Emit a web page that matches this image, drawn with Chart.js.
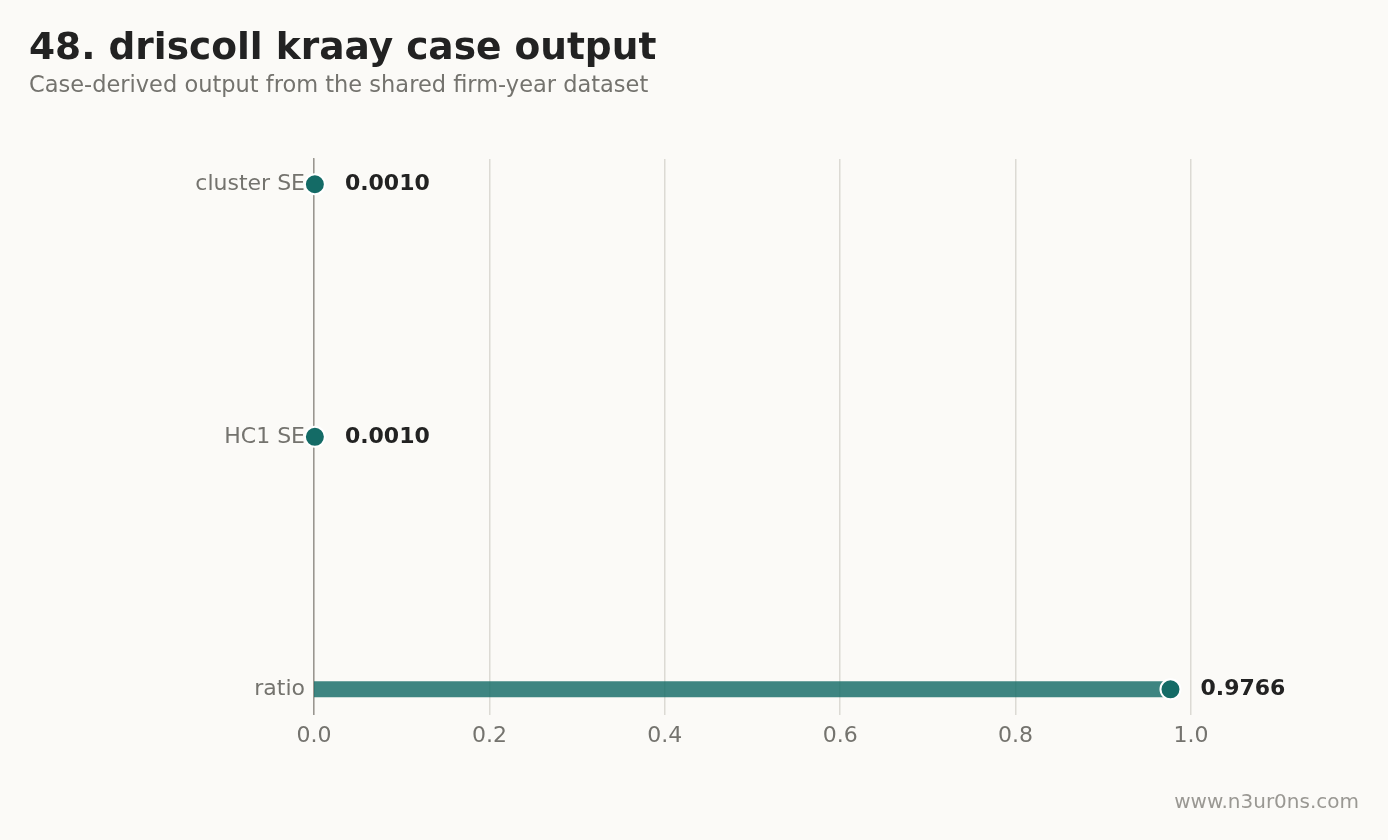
<!DOCTYPE html>
<html><head><meta charset="utf-8">
<script src="https://cdn.jsdelivr.net/npm/chart.js@4/dist/chart.umd.min.js"></script>
<style>html,body{margin:0;background:#fbfaf7;}#c{display:block}</style>
</head><body>
<div style="width:1388px;height:840px"><canvas id="c"></canvas></div>
<script>
const categories = ["cluster SE", "HC1 SE", "ratio"];
const values = [0.0010, 0.0010, 0.9766];
const labels = ["0.0010", "0.0010", "0.9766"];
const xTicks = [0, 0.2, 0.4, 0.6, 0.8, 1.0];

const teal = "#146b66";
const datasets = categories.map((c, i) => ({
  type: 'line',
  data: [{x: 0, y: i}, {x: values[i], y: i}],
  borderColor: 'rgba(20,107,102,0.82)',
  borderWidth: 16,
  borderCapStyle: 'butt',
  pointRadius: [0, 10],
  pointBackgroundColor: teal,
  pointBorderColor: '#ffffff',
  pointBorderWidth: 2,
  clip: false
}));

const extras = {
  id: 'extras',
  afterDatasetsDraw(chart) {
    const ctx = chart.ctx, xs = chart.scales.x, ys = chart.scales.y;
    ctx.save();
    ctx.font = 'bold 22px "DejaVu Sans"';
    ctx.fillStyle = '#222';
    ctx.textBaseline = 'middle';
    values.forEach((v, i) => ctx.fillText(labels[i], xs.getPixelForValue(v) + 30, ys.getPixelForValue(i)));
    ctx.font = 'bold 37.5px "DejaVu Sans"';
    ctx.textBaseline = 'alphabetic';
    ctx.fillText('48. driscoll kraay case output', 29, 59);
    ctx.font = '22.5px "DejaVu Sans"';
    ctx.fillStyle = '#74736e';
    ctx.fillText('Case-derived output from the shared firm-year dataset', 29, 92);
    ctx.font = '20px "DejaVu Sans"';
    ctx.fillStyle = '#9a9893';
    ctx.textAlign = 'right';
    ctx.fillText('www.n3ur0ns.com', 1359, 808);
    ctx.restore();
  }
};

new Chart(document.getElementById('c'), {
  type: 'line',
  data: { datasets },
  options: {
    responsive: true, maintainAspectRatio: false, animation: false,
    layout: { padding: { left: 28, right: 197, top: 159, bottom: 83 } },
    plugins: { legend: { display: false }, tooltip: { enabled: false } },
    scales: {
      x: {
        type: 'linear', min: 0, max: 1,
        afterBuildTicks: s => { s.ticks = xTicks.map(v => ({value: v})); },
        ticks: { color: '#74736e', font: { family: 'DejaVu Sans', size: 22 }, padding: 8, callback: v => v.toFixed(1) },
        grid: { color: '#dcdad4', lineWidth: 1.5, drawTicks: false },
        border: { display: false }
      },
      y: {
        type: 'linear', min: -0.1, max: 2.1, reverse: true,
        afterBuildTicks: s => { s.ticks = categories.map((c, i) => ({value: i})); },
        afterFit: s => { s.width = 286; },
        ticks: { color: '#74736e', font: { family: 'DejaVu Sans', size: 22 }, padding: 9, callback: v => categories[v] },
        grid: { display: false, drawTicks: false },
        border: { display: true, color: '#999690', width: 1.5 }
      }
    }
  },
  plugins: [extras]
});
</script>
</body></html>
